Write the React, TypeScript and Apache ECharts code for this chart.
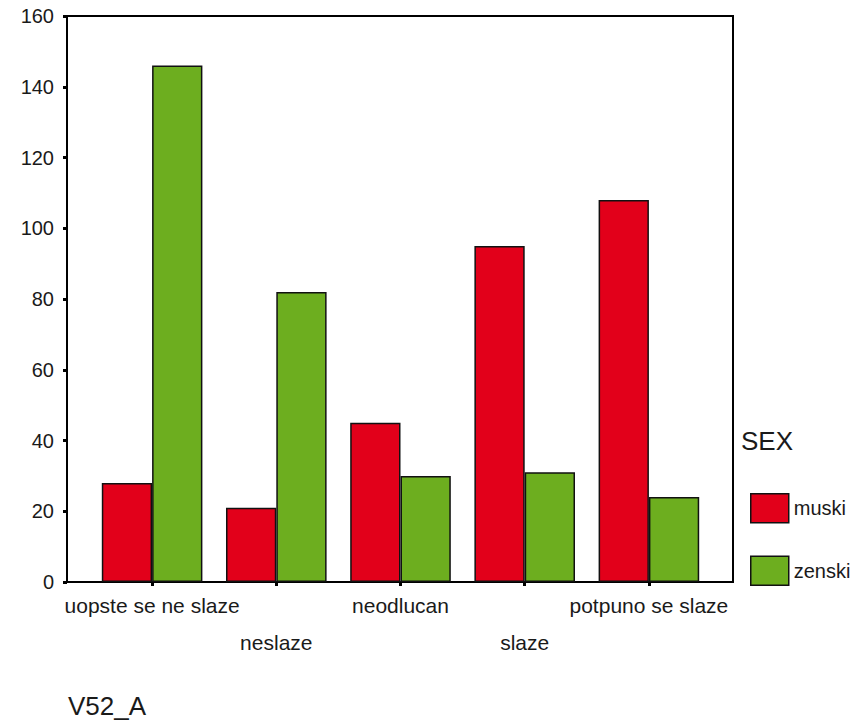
import React, { useEffect, useRef } from "react";
import * as echarts from "echarts";

const categories = ["uopste se ne slaze", "neslaze", "neodlucan", "slaze", "potpuno se slaze"];
const muski = [28, 21, 45, 95, 108];
const zenski = [146, 82, 30, 31, 24];
const seriesNames = ["muski", "zenski"];
const legendTitle = "SEX";
const axisTitle = "V52_A";

const FONT = "'Liberation Sans', Arial, sans-serif";
const TXT = "#1a1a1a";

export default function App() {
  const ref = useRef<HTMLDivElement>(null);
  useEffect(() => {
    if (!ref.current) return;
    const chart = echarts.init(ref.current, undefined, { renderer: "svg" });
    const barStyle = (color: string) => ({ color, borderColor: "#111", borderWidth: 1.5 });
    chart.setOption({
      animation: false,
      backgroundColor: "#ffffff",
      textStyle: { fontFamily: FONT },
      grid: [
        { left: 67, right: 124, top: 16, bottom: 139, show: true, borderColor: "#000", borderWidth: 2, backgroundColor: "transparent" },
        { left: 90, right: 146, top: 16, bottom: 139 },
      ],
      xAxis: [
        { type: "value", gridIndex: 0, show: false, min: 0, max: 1 },
        {
          type: "category",
          gridIndex: 1,
          data: categories,
          axisLine: { show: true, lineStyle: { color: "#000", width: 2 } },
          axisTick: { show: true, alignWithLabel: true, length: 4, lineStyle: { color: "#000", width: 3 } },
          axisLabel: {
            interval: 0,
            margin: 5,
            fontSize: 21,
            lineHeight: 37,
            color: TXT,
            fontFamily: FONT,
            formatter: (v: string, i: number) => (i % 2 === 1 ? "\n" + v : v),
          },
        },
      ],
      yAxis: [
        {
          type: "value",
          gridIndex: 0,
          min: 0,
          max: 160,
          interval: 20,
          axisLine: { show: true, lineStyle: { color: "#000", width: 2 } },
          axisTick: { show: true, length: 4, lineStyle: { color: "#000", width: 3 } },
          axisLabel: { margin: 13, fontSize: 20, color: TXT, fontFamily: FONT },
          splitLine: { show: false },
        },
        { type: "value", gridIndex: 1, min: 0, max: 160, show: false },
      ],
      legend: {
        orient: "vertical",
        left: 750,
        top: 493,
        padding: 0,
        itemWidth: 38,
        itemHeight: 29,
        itemGap: 32,
        icon: "rect",
        data: seriesNames,
        itemStyle: { borderColor: "#111", borderWidth: 1.5 },
        textStyle: { fontSize: 20, color: TXT, fontFamily: FONT, padding: [10, 0, 0, 0] },
      },
      graphic: [
        { type: "text", left: 741, top: 428, style: { text: legendTitle, fontSize: 26, fill: TXT, fontFamily: FONT } },
        { type: "text", left: 68, top: 693, style: { text: axisTitle, fontSize: 26, fill: TXT, fontFamily: FONT } },
      ],
      series: [
        {
          name: seriesNames[0],
          type: "bar",
          xAxisIndex: 1,
          yAxisIndex: 1,
          data: muski,
          barGap: "0%",
          barCategoryGap: "19%",
          itemStyle: barStyle("#E2001A"),
        },
        {
          name: seriesNames[1],
          type: "bar",
          xAxisIndex: 1,
          yAxisIndex: 1,
          data: zenski,
          barGap: "0%",
          barCategoryGap: "19%",
          itemStyle: barStyle("#6DAE1F"),
        },
      ],
    });
    return () => chart.dispose();
  }, []);
  return <div ref={ref} style={{ position: "fixed", left: 0, top: 0, width: 857, height: 721 }} />;
}
